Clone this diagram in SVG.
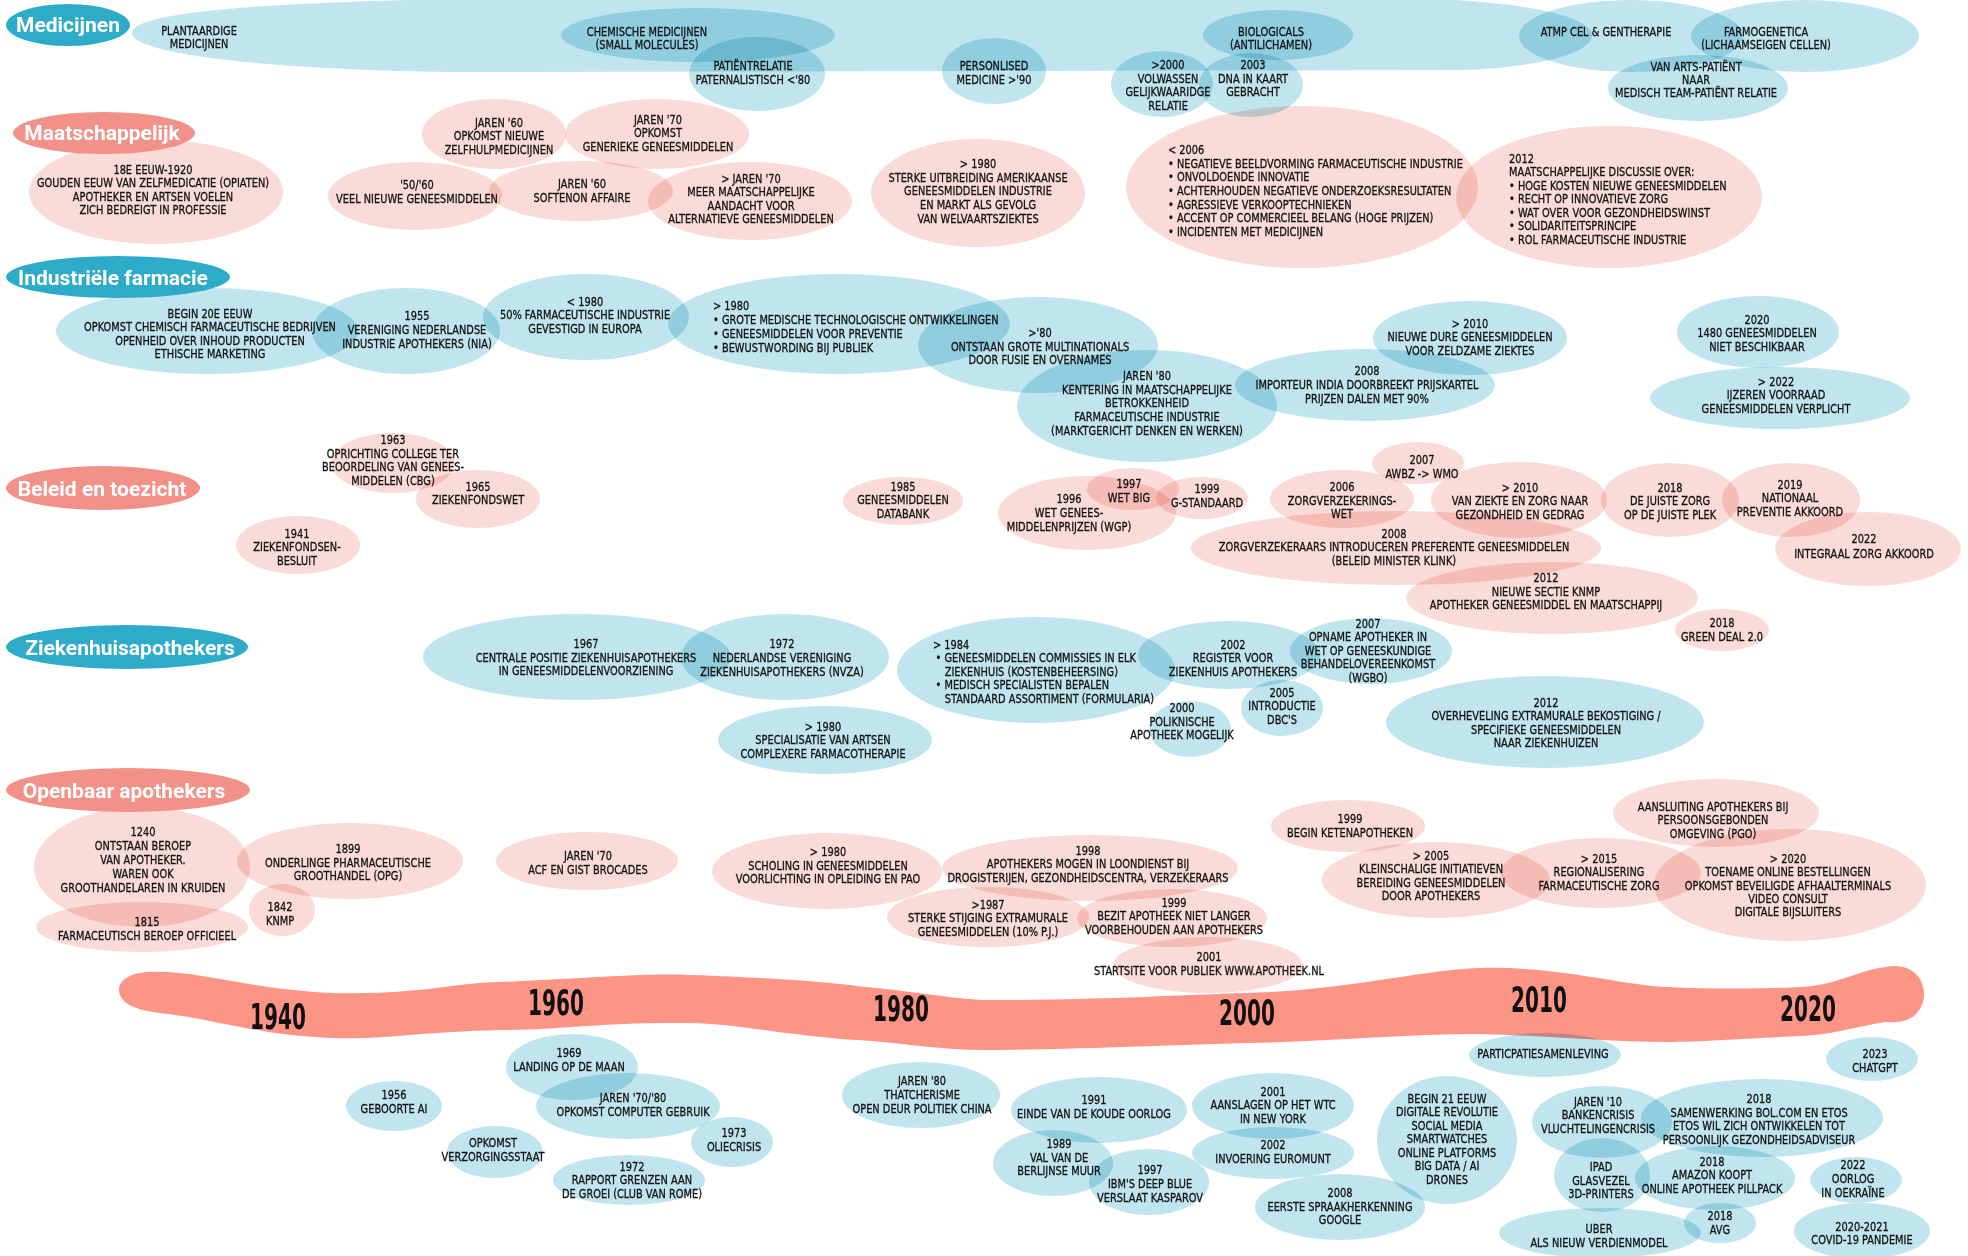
<svg xmlns="http://www.w3.org/2000/svg" width="1968" height="1256" viewBox="0 0 1968 1256">
<style>
.b{fill:#c0e5ee;mix-blend-mode:multiply}
.p{fill:#fadbd7;mix-blend-mode:multiply}
.cb{fill:#2eabc9}
.cp{fill:#f29188}
.cat{font-family:Roboto,'Liberation Sans',sans-serif;font-weight:700;font-size:21px;fill:#fff;text-anchor:middle}
.t{font-family:'DejaVu Sans Condensed','DejaVu Sans',sans-serif;font-stretch:condensed;font-size:13px;fill:#111;stroke:#111;stroke-width:0.3px;text-anchor:middle;transform-box:fill-box;transform-origin:center;transform:scaleX(0.84)}
.l{text-anchor:start;transform-origin:left center}
.yr{font-family:'DejaVu Sans Condensed','DejaVu Sans',sans-serif;font-stretch:condensed;font-weight:700;font-size:36px;fill:#111;text-anchor:middle;transform-box:fill-box;transform-origin:center;transform:scaleX(0.62)}
.band{fill:#fd9587}
</style>
<rect width="1968" height="1256" fill="#fff"/>

<g id="timeline">
<path class="band" d="M150,972 C200,970 250,990 333,993 C420,995 460,982 500,982 C600,978 640,973 690,975 C780,978 820,982 857,986 C920,992 960,1000 990,1000 C1100,1000 1180,995 1247,993 C1350,990 1420,970 1480,968 C1560,966 1620,985 1668,987 C1720,990 1780,988 1801,987 C1840,985 1860,968 1895,966 C1925,966 1932,1000 1915,1015 C1905,1024 1890,1022 1885,1022 C1850,1028 1830,1035 1801,1036 C1760,1038 1700,1042 1668,1042 C1600,1042 1540,1035 1480,1034 C1400,1034 1320,1042 1247,1043 C1150,1046 1050,1050 990,1050 C930,1050 900,1042 857,1040 C790,1036 740,1024 690,1023 C600,1022 560,1030 500,1030 C420,1032 380,1040 333,1038 C260,1036 210,1018 160,1013 C130,1010 119,1000 119,990 C119,978 135,972 150,972 Z"/>
<text class="yr" x="278" y="1029">1940</text>
<text class="yr" x="556" y="1015">1960</text>
<text class="yr" x="901" y="1021">1980</text>
<text class="yr" x="1247" y="1025">2000</text>
<text class="yr" x="1539" y="1012">2010</text>
<text class="yr" x="1808" y="1021">2020</text>
</g>

<g id="connectors"></g>

<!-- Medicijnen -->
<g id="med-plantaardig"><path class="b" d="M132,33 C132,12 260,2 500,-2 L1400,-2 C1530,0 1592,18 1592,35 C1592,55 1530,68 1460,70 L450,72 C280,70 132,55 132,33 Z"/><text class="t" x="199" y="35"><tspan x="199">PLANTAARDIGE</tspan><tspan x="199" dy="13.4">MEDICIJNEN</tspan></text></g>
<g id="med-chemisch"><ellipse class="b" cx="698" cy="35" rx="137" ry="27"/><text class="t" x="647" y="36"><tspan x="647">CHEMISCHE MEDICIJNEN</tspan><tspan x="647" dy="12.8">(SMALL MOLECULES)</tspan></text></g>
<g id="med-patientrelatie"><ellipse class="b" cx="757" cy="74" rx="68" ry="37"/><text class="t" x="753" y="70"><tspan x="753">PATIËNTRELATIE</tspan><tspan x="753" dy="14">PATERNALISTISCH &lt;'80</tspan></text></g>
<g id="med-personalised"><ellipse class="b" cx="994" cy="71" rx="52" ry="33"/><text class="t" x="994" y="70"><tspan x="994">PERSONLISED</tspan><tspan x="994" dy="14">MEDICINE &gt;'90</tspan></text></g>
<g id="med-volwassen"><ellipse class="b" cx="1162" cy="84" rx="51" ry="33"/><text class="t" x="1168" y="69"><tspan x="1168">&gt;2000</tspan><tspan x="1168" dy="13.7">VOLWASSEN</tspan><tspan x="1168" dy="13.7">GELIJKWAARIDGE</tspan><tspan x="1168" dy="13.7">RELATIE</tspan></text></g>
<g id="med-dna"><ellipse class="b" cx="1251" cy="85" rx="52" ry="32"/><text class="t" x="1253" y="69"><tspan x="1253">2003</tspan><tspan x="1253" dy="13.7">DNA IN KAART</tspan><tspan x="1253" dy="13.7">GEBRACHT</tspan></text></g>
<g id="med-biologicals"><ellipse class="b" cx="1278" cy="35" rx="75" ry="25"/><text class="t" x="1271" y="36"><tspan x="1271">BIOLOGICALS</tspan><tspan x="1271" dy="12.8">(ANTILICHAMEN)</tspan></text></g>
<g id="med-atmp"><ellipse class="b" cx="1631" cy="36" rx="112" ry="36"/><text class="t" x="1606" y="36">ATMP CEL &amp; GENTHERAPIE</text></g>
<g id="med-farmogenetica"><ellipse class="b" cx="1805" cy="36" rx="114" ry="36"/><text class="t" x="1766" y="36"><tspan x="1766">FARMOGENETICA</tspan><tspan x="1766" dy="12.8">(LICHAAMSEIGEN CELLEN)</tspan></text></g>
<g id="med-teampatient"><ellipse class="b" cx="1698" cy="88" rx="90" ry="33"/><text class="t" x="1696" y="71"><tspan x="1696">VAN ARTS-PATIËNT</tspan><tspan x="1696" dy="13">NAAR</tspan><tspan x="1696" dy="13">MEDISCH TEAM-PATIËNT RELATIE</tspan></text></g>

<!-- Maatschappelijk -->
<g id="m-18e"><ellipse class="p" cx="156" cy="192" rx="127" ry="52"/><text class="t" x="153" y="174"><tspan x="153">18E EEUW-1920</tspan><tspan x="153" dy="13.4">GOUDEN EEUW VAN ZELFMEDICATIE (OPIATEN)</tspan><tspan x="153" dy="13.4">APOTHEKER EN ARTSEN VOELEN</tspan><tspan x="153" dy="13.4">ZICH BEDREIGT IN PROFESSIE</tspan></text></g>
<g id="m-jaren60-zelfhulp"><ellipse class="p" cx="494" cy="134" rx="72" ry="35"/><text class="t" x="499" y="127"><tspan x="499">JAREN '60</tspan><tspan x="499" dy="13.4">OPKOMST NIEUWE</tspan><tspan x="499" dy="13.4">ZELFHULPMEDICIJNEN</tspan></text></g>
<g id="m-jaren70-generiek"><ellipse class="p" cx="657" cy="134" rx="92" ry="35"/><text class="t" x="658" y="124"><tspan x="658">JAREN '70</tspan><tspan x="658" dy="13.4">OPKOMST</tspan><tspan x="658" dy="13.4">GENERIEKE GENEESMIDDELEN</tspan></text></g>
<g id="m-5060"><ellipse class="p" cx="415" cy="196" rx="87" ry="34"/><text class="t" x="417" y="189"><tspan x="417">'50/'60</tspan><tspan x="417" dy="14.5">VEEL NIEUWE GENEESMIDDELEN</tspan></text></g>
<g id="m-softenon"><ellipse class="p" cx="581" cy="191" rx="92" ry="30"/><text class="t" x="582" y="188"><tspan x="582">JAREN '60</tspan><tspan x="582" dy="14">SOFTENON AFFAIRE</tspan></text></g>
<g id="m-jaren70-alternatief"><ellipse class="p" cx="750" cy="201" rx="102" ry="39"/><text class="t" x="751" y="183"><tspan x="751">&gt; JAREN '70</tspan><tspan x="751" dy="13.4">MEER MAATSCHAPPELIJKE</tspan><tspan x="751" dy="13.4">AANDACHT VOOR</tspan><tspan x="751" dy="13.4">ALTERNATIEVE GENEESMIDDELEN</tspan></text></g>
<g id="m-1980"><ellipse class="p" cx="978" cy="193" rx="107" ry="54"/><text class="t" x="978" y="168"><tspan x="978">&gt; 1980</tspan><tspan x="978" dy="13.7">STERKE UITBREIDING AMERIKAANSE</tspan><tspan x="978" dy="13.7">GENEESMIDDELEN INDUSTRIE</tspan><tspan x="978" dy="13.7">EN MARKT ALS GEVOLG</tspan><tspan x="978" dy="13.7">VAN WELVAARTSZIEKTES</tspan></text></g>
<g id="m-2006"><ellipse class="p" cx="1302" cy="187" rx="176" ry="81"/><text class="t l" x="1168" y="154"><tspan x="1168">&lt; 2006</tspan><tspan x="1168" dy="13.7">• NEGATIEVE BEELDVORMING FARMACEUTISCHE INDUSTRIE</tspan><tspan x="1168" dy="13.7">• ONVOLDOENDE INNOVATIE</tspan><tspan x="1168" dy="13.7">• ACHTERHOUDEN NEGATIEVE ONDERZOEKSRESULTATEN</tspan><tspan x="1168" dy="13.7">• AGRESSIEVE VERKOOPTECHNIEKEN</tspan><tspan x="1168" dy="13.7">• ACCENT OP COMMERCIEEL BELANG (HOGE PRIJZEN)</tspan><tspan x="1168" dy="13.7">• INCIDENTEN MET MEDICIJNEN</tspan></text></g>
<g id="m-2012"><ellipse class="p" cx="1609" cy="197" rx="153" ry="71"/><text class="t l" x="1509" y="163"><tspan x="1509">2012</tspan><tspan x="1509" dy="13.5">MAATSCHAPPELIJKE DISCUSSIE OVER:</tspan><tspan x="1509" dy="13.5">• HOGE KOSTEN NIEUWE GENEESMIDDELEN</tspan><tspan x="1509" dy="13.5">• RECHT OP INNOVATIEVE ZORG</tspan><tspan x="1509" dy="13.5">• WAT OVER VOOR GEZONDHEIDSWINST</tspan><tspan x="1509" dy="13.5">• SOLIDARITEITSPRINCIPE</tspan><tspan x="1509" dy="13.5">• ROL FARMACEUTISCHE INDUSTRIE</tspan></text></g>

<!-- Industriele farmacie -->
<g id="i-begin20"><ellipse class="b" cx="207" cy="331" rx="151" ry="43"/><text class="t" x="210" y="318"><tspan x="210">BEGIN 20E EEUW</tspan><tspan x="210" dy="13.4">OPKOMST CHEMISCH FARMACEUTISCHE BEDRIJVEN</tspan><tspan x="210" dy="13.4">OPENHEID OVER INHOUD PRODUCTEN</tspan><tspan x="210" dy="13.4">ETHISCHE MARKETING</tspan></text></g>
<g id="i-1955"><ellipse class="b" cx="406" cy="331" rx="94" ry="43"/><text class="t" x="417" y="320"><tspan x="417">1955</tspan><tspan x="417" dy="14">VERENIGING NEDERLANDSE</tspan><tspan x="417" dy="14">INDUSTRIE APOTHEKERS (NIA)</tspan></text></g>
<g id="i-1980-europa"><ellipse class="b" cx="586" cy="317" rx="103" ry="43"/><text class="t" x="585" y="306"><tspan x="585">&lt; 1980</tspan><tspan x="585" dy="13.5">50% FARMACEUTISCHE INDUSTRIE</tspan><tspan x="585" dy="13.5">GEVESTIGD IN EUROPA</tspan></text></g>
<g id="i-1980-technologie"><ellipse class="b" cx="839" cy="324" rx="171" ry="50"/><text class="t l" x="713" y="310"><tspan x="713">&gt; 1980</tspan><tspan x="713" dy="14">• GROTE MEDISCHE TECHNOLOGISCHE ONTWIKKELINGEN</tspan><tspan x="713" dy="14">• GENEESMIDDELEN VOOR PREVENTIE</tspan><tspan x="713" dy="14">• BEWUSTWORDING BIJ PUBLIEK</tspan></text></g>
<g id="i-80-multinationals"><ellipse class="b" cx="1038" cy="345" rx="120" ry="48"/><text class="t" x="1040" y="337"><tspan x="1040">&gt;'80</tspan><tspan x="1040" dy="13.7">ONTSTAAN GROTE MULTINATIONALS</tspan><tspan x="1040" dy="13.7">DOOR FUSIE EN OVERNAMES</tspan></text></g>
<g id="i-jaren80"><ellipse class="b" cx="1147" cy="406" rx="130" ry="56"/><text class="t" x="1147" y="380"><tspan x="1147">JAREN '80</tspan><tspan x="1147" dy="13.7">KENTERING IN MAATSCHAPPELIJKE</tspan><tspan x="1147" dy="13.7">BETROKKENHEID</tspan><tspan x="1147" dy="13.7">FARMACEUTISCHE INDUSTRIE</tspan><tspan x="1147" dy="13.7">(MARKTGERICHT DENKEN EN WERKEN)</tspan></text></g>
<g id="i-2008"><ellipse class="b" cx="1365" cy="385" rx="130" ry="36"/><text class="t" x="1367" y="375"><tspan x="1367">2008</tspan><tspan x="1367" dy="14">IMPORTEUR INDIA DOORBREEKT PRIJSKARTEL</tspan><tspan x="1367" dy="14">PRIJZEN DALEN MET 90%</tspan></text></g>
<g id="i-2010"><ellipse class="b" cx="1470" cy="338" rx="97" ry="37"/><text class="t" x="1470" y="328"><tspan x="1470">&gt; 2010</tspan><tspan x="1470" dy="13.5">NIEUWE DURE GENEESMIDDELEN</tspan><tspan x="1470" dy="13.5">VOOR ZELDZAME ZIEKTES</tspan></text></g>
<g id="i-2020"><ellipse class="b" cx="1758" cy="332" rx="81" ry="36"/><text class="t" x="1757" y="324"><tspan x="1757">2020</tspan><tspan x="1757" dy="13.5">1480 GENEESMIDDELEN</tspan><tspan x="1757" dy="13.5">NIET BESCHIKBAAR</tspan></text></g>
<g id="i-2022"><ellipse class="b" cx="1780" cy="398" rx="130" ry="31"/><text class="t" x="1776" y="386"><tspan x="1776">&gt; 2022</tspan><tspan x="1776" dy="13.5">IJZEREN VOORRAAD</tspan><tspan x="1776" dy="13.5">GENEESMIDDELEN VERPLICHT</tspan></text></g>

<!-- Beleid en toezicht -->
<g id="b-1963"><ellipse class="p" cx="393" cy="463" rx="62" ry="30"/><text class="t" x="393" y="444"><tspan x="393">1963</tspan><tspan x="393" dy="13.7">OPRICHTING COLLEGE TER</tspan><tspan x="393" dy="13.7">BEOORDELING VAN GENEES-</tspan><tspan x="393" dy="13.7">MIDDELEN (CBG)</tspan></text></g>
<g id="b-1965"><ellipse class="p" cx="478" cy="499" rx="62" ry="29"/><text class="t" x="478" y="491"><tspan x="478">1965</tspan><tspan x="478" dy="13.4">ZIEKENFONDSWET</tspan></text></g>
<g id="b-1941"><ellipse class="p" cx="298" cy="545" rx="62" ry="29"/><text class="t" x="297" y="538"><tspan x="297">1941</tspan><tspan x="297" dy="13.5">ZIEKENFONDSEN-</tspan><tspan x="297" dy="13.5">BESLUIT</tspan></text></g>
<g id="b-1985"><ellipse class="p" cx="903" cy="501" rx="60" ry="24"/><text class="t" x="903" y="491"><tspan x="903">1985</tspan><tspan x="903" dy="13.5">GENEESMIDDELEN</tspan><tspan x="903" dy="13.5">DATABANK</tspan></text></g>
<g id="b-1996"><ellipse class="p" cx="1087" cy="513" rx="89" ry="37"/><text class="t" x="1069" y="503"><tspan x="1069">1996</tspan><tspan x="1069" dy="14">WET GENEES-</tspan><tspan x="1069" dy="14">MIDDELENPRIJZEN (WGP)</tspan></text></g>
<g id="b-1997"><ellipse class="p" cx="1133" cy="489" rx="46" ry="21"/><text class="t" x="1129" y="488"><tspan x="1129">1997</tspan><tspan x="1129" dy="14">WET BIG</tspan></text></g>
<g id="b-1999"><ellipse class="p" cx="1202" cy="498" rx="46" ry="21"/><text class="t" x="1207" y="493"><tspan x="1207">1999</tspan><tspan x="1207" dy="14">G-STANDAARD</tspan></text></g>
<g id="b-2006"><ellipse class="p" cx="1342" cy="499" rx="72" ry="29"/><text class="t" x="1342" y="491"><tspan x="1342">2006</tspan><tspan x="1342" dy="13.7">ZORGVERZEKERINGS-</tspan><tspan x="1342" dy="13.7">WET</tspan></text></g>
<g id="b-2007"><ellipse class="p" cx="1418" cy="463" rx="46" ry="21"/><text class="t" x="1422" y="464"><tspan x="1422">2007</tspan><tspan x="1422" dy="14">AWBZ -&gt; WMO</tspan></text></g>
<g id="b-2008"><ellipse class="p" cx="1396" cy="548" rx="205" ry="37"/><text class="t" x="1394" y="538"><tspan x="1394">2008</tspan><tspan x="1394" dy="13.5">ZORGVERZEKERAARS INTRODUCEREN PREFERENTE GENEESMIDDELEN</tspan><tspan x="1394" dy="13.5">(BELEID MINISTER KLINK)</tspan></text></g>
<g id="b-2010"><ellipse class="p" cx="1519" cy="500" rx="88" ry="38"/><text class="t" x="1520" y="492"><tspan x="1520">&gt; 2010</tspan><tspan x="1520" dy="13.4">VAN ZIEKTE EN ZORG NAAR</tspan><tspan x="1520" dy="13.4">GEZONDHEID EN GEDRAG</tspan></text></g>
<g id="b-2018-zorg"><ellipse class="p" cx="1670" cy="500" rx="69" ry="37"/><text class="t" x="1670" y="492"><tspan x="1670">2018</tspan><tspan x="1670" dy="13.4">DE JUISTE ZORG</tspan><tspan x="1670" dy="13.4">OP DE JUISTE PLEK</tspan></text></g>
<g id="b-2019"><ellipse class="p" cx="1791" cy="500" rx="69" ry="37"/><text class="t" x="1790" y="489"><tspan x="1790">2019</tspan><tspan x="1790" dy="13.5">NATIONAAL</tspan><tspan x="1790" dy="13.5">PREVENTIE AKKOORD</tspan></text></g>
<g id="b-2022"><ellipse class="p" cx="1868" cy="549" rx="93" ry="37"/><text class="t" x="1864" y="543"><tspan x="1864">2022</tspan><tspan x="1864" dy="15">INTEGRAAL ZORG AKKOORD</tspan></text></g>
<g id="b-2012"><ellipse class="p" cx="1552" cy="598" rx="146" ry="36"/><text class="t" x="1546" y="582"><tspan x="1546">2012</tspan><tspan x="1546" dy="13.7">NIEUWE SECTIE KNMP</tspan><tspan x="1546" dy="13.7">APOTHEKER GENEESMIDDEL EN MAATSCHAPPIJ</tspan></text></g>
<g id="b-2018-greendeal"><ellipse class="p" cx="1722" cy="630" rx="47" ry="21"/><text class="t" x="1722" y="627"><tspan x="1722">2018</tspan><tspan x="1722" dy="14.5">GREEN DEAL 2.0</tspan></text></g>

<!-- Ziekenhuisapothekers -->
<g id="z-1967"><ellipse class="b" cx="577" cy="657" rx="154" ry="43"/><text class="t" x="586" y="648"><tspan x="586">1967</tspan><tspan x="586" dy="14">CENTRALE POSITIE ZIEKENHUISAPOTHEKERS</tspan><tspan x="586" dy="13.5">IN GENEESMIDDELENVOORZIENING</tspan></text></g>
<g id="z-1972"><ellipse class="b" cx="785" cy="657" rx="104" ry="43"/><text class="t" x="782" y="648"><tspan x="782">1972</tspan><tspan x="782" dy="14">NEDERLANDSE VERENIGING</tspan><tspan x="782" dy="14">ZIEKENHUISAPOTHEKERS (NVZA)</tspan></text></g>
<g id="z-1980"><ellipse class="b" cx="825" cy="740" rx="107" ry="34"/><text class="t" x="823" y="731"><tspan x="823">&gt; 1980</tspan><tspan x="823" dy="13.5">SPECIALISATIE VAN ARTSEN</tspan><tspan x="823" dy="13.5">COMPLEXERE FARMACOTHERAPIE</tspan></text></g>
<g id="z-1984"><ellipse class="b" cx="1036" cy="670" rx="139" ry="53"/><text class="t l" x="933" y="649"><tspan x="933">&gt; 1984</tspan><tspan x="936" dy="13.5">• GENEESMIDDELEN COMMISSIES IN ELK</tspan><tspan x="947" dy="13.5">ZIEKENHUIS (KOSTENBEHEERSING)</tspan><tspan x="936" dy="13.5">• MEDISCH SPECIALISTEN BEPALEN</tspan><tspan x="947" dy="13.5">STANDAARD ASSORTIMENT (FORMULARIA)</tspan></text></g>
<g id="z-2002"><ellipse class="b" cx="1229" cy="655" rx="91" ry="34"/><text class="t" x="1233" y="649"><tspan x="1233">2002</tspan><tspan x="1233" dy="13.5">REGISTER VOOR</tspan><tspan x="1233" dy="13.5">ZIEKENHUIS APOTHEKERS</tspan></text></g>
<g id="z-2007"><ellipse class="b" cx="1371" cy="651" rx="81" ry="33"/><text class="t" x="1368" y="628"><tspan x="1368">2007</tspan><tspan x="1368" dy="13.5">OPNAME APOTHEKER IN</tspan><tspan x="1368" dy="13.5">WET OP GENEESKUNDIGE</tspan><tspan x="1368" dy="13.5">BEHANDELOVEREENKOMST</tspan><tspan x="1368" dy="13.5">(WGBO)</tspan></text></g>
<g id="z-2005"><ellipse class="b" cx="1282" cy="708" rx="41" ry="28"/><text class="t" x="1282" y="697"><tspan x="1282">2005</tspan><tspan x="1282" dy="13.5">INTRODUCTIE</tspan><tspan x="1282" dy="13.5">DBC'S</tspan></text></g>
<g id="z-2000"><ellipse class="b" cx="1190" cy="729" rx="41" ry="28"/><text class="t" x="1182" y="712"><tspan x="1182">2000</tspan><tspan x="1182" dy="14">POLIKNISCHE</tspan><tspan x="1182" dy="13.5">APOTHEEK MOGELIJK</tspan></text></g>
<g id="z-2012"><ellipse class="b" cx="1545" cy="722" rx="159" ry="46"/><text class="t" x="1546" y="707"><tspan x="1546">2012</tspan><tspan x="1546" dy="13.5">OVERHEVELING EXTRAMURALE BEKOSTIGING /</tspan><tspan x="1546" dy="13.5">SPECIFIEKE GENEESMIDDELEN</tspan><tspan x="1546" dy="13">NAAR ZIEKENHUIZEN</tspan></text></g>

<!-- Openbaar apothekers -->
<g id="o-1240"><ellipse class="p" cx="142" cy="867" rx="108" ry="60"/><text class="t" x="143" y="836"><tspan x="143">1240</tspan><tspan x="143" dy="14">ONTSTAAN BEROEP</tspan><tspan x="143" dy="14">VAN APOTHEKER.</tspan><tspan x="143" dy="14">WAREN OOK</tspan><tspan x="143" dy="14">GROOTHANDELAREN IN KRUIDEN</tspan></text></g>
<g id="o-1815"><ellipse class="p" cx="142" cy="927" rx="106" ry="25"/><text class="t" x="147" y="926"><tspan x="147">1815</tspan><tspan x="147" dy="14">FARMACEUTISCH BEROEP OFFICIEEL</tspan></text></g>
<g id="o-1899"><ellipse class="p" cx="350" cy="861" rx="113" ry="38"/><text class="t" x="348" y="853"><tspan x="348">1899</tspan><tspan x="348" dy="13.7">ONDERLINGE PHARMACEUTISCHE</tspan><tspan x="348" dy="13.7">GROOTHANDEL (OPG)</tspan></text></g>
<g id="o-1842"><ellipse class="p" cx="282" cy="910" rx="33" ry="26"/><text class="t" x="280" y="911"><tspan x="280">1842</tspan><tspan x="280" dy="14">KNMP</tspan></text></g>
<g id="o-jaren70"><ellipse class="p" cx="587" cy="861" rx="91" ry="29"/><text class="t" x="588" y="860"><tspan x="588">JAREN '70</tspan><tspan x="588" dy="14">ACF EN GIST BROCADES</tspan></text></g>
<g id="o-1980"><ellipse class="p" cx="827" cy="871" rx="115" ry="38"/><text class="t" x="828" y="856"><tspan x="828">&gt; 1980</tspan><tspan x="828" dy="13.7">SCHOLING IN GENEESMIDDELEN</tspan><tspan x="828" dy="13.7">VOORLICHTING IN OPLEIDING EN PAO</tspan></text></g>
<g id="o-1998"><ellipse class="p" cx="1090" cy="868" rx="148" ry="33"/><text class="t" x="1088" y="855"><tspan x="1088">1998</tspan><tspan x="1088" dy="13.5">APOTHEKERS MOGEN IN LOONDIENST BIJ</tspan><tspan x="1088" dy="13.5">DROGISTERIJEN, GEZONDHEIDSCENTRA, VERZEKERAARS</tspan></text></g>
<g id="o-1987"><ellipse class="p" cx="988" cy="917" rx="101" ry="30"/><text class="t" x="988" y="909"><tspan x="988">&gt;1987</tspan><tspan x="988" dy="13.5">STERKE STIJGING EXTRAMURALE</tspan><tspan x="988" dy="13.5">GENEESMIDDELEN (10% P.J.)</tspan></text></g>
<g id="o-1999-bezit"><ellipse class="p" cx="1172" cy="918" rx="95" ry="29"/><text class="t" x="1174" y="907"><tspan x="1174">1999</tspan><tspan x="1174" dy="13.5">BEZIT APOTHEEK NIET LANGER</tspan><tspan x="1174" dy="13.5">VOORBEHOUDEN AAN APOTHEKERS</tspan></text></g>
<g id="o-2001"><ellipse class="p" cx="1208" cy="965" rx="95" ry="28"/><text class="t" x="1209" y="961"><tspan x="1209">2001</tspan><tspan x="1209" dy="14">STARTSITE VOOR PUBLIEK WWW.APOTHEEK.NL</tspan></text></g>
<g id="o-1999-keten"><ellipse class="p" cx="1348" cy="826" rx="77" ry="26"/><text class="t" x="1350" y="823"><tspan x="1350">1999</tspan><tspan x="1350" dy="14.5">BEGIN KETENAPOTHEKEN</tspan></text></g>
<g id="o-2005"><ellipse class="p" cx="1436" cy="880" rx="114" ry="38"/><text class="t" x="1431" y="860"><tspan x="1431">&gt; 2005</tspan><tspan x="1431" dy="13.5">KLEINSCHALIGE INITIATIEVEN</tspan><tspan x="1431" dy="13.5">BEREIDING GENEESMIDDELEN</tspan><tspan x="1431" dy="13.5">DOOR APOTHEKERS</tspan></text></g>
<g id="o-2015"><ellipse class="p" cx="1601" cy="873" rx="100" ry="35"/><text class="t" x="1599" y="863"><tspan x="1599">&gt; 2015</tspan><tspan x="1599" dy="13.3">REGIONALISERING</tspan><tspan x="1599" dy="13.3">FARMACEUTISCHE ZORG</tspan></text></g>
<g id="o-2020"><ellipse class="p" cx="1790" cy="885" rx="136" ry="56"/><text class="t" x="1788" y="863"><tspan x="1788">&gt; 2020</tspan><tspan x="1788" dy="13.3">TOENAME ONLINE BESTELLINGEN</tspan><tspan x="1788" dy="13.3">OPKOMST BEVEILIGDE AFHAALTERMINALS</tspan><tspan x="1788" dy="13.3">VIDEO CONSULT</tspan><tspan x="1788" dy="13.3">DIGITALE BIJSLUITERS</tspan></text></g>
<g id="o-pgo"><ellipse class="p" cx="1716" cy="813" rx="103" ry="34"/><text class="t" x="1713" y="811"><tspan x="1713">AANSLUITING APOTHEKERS BIJ</tspan><tspan x="1713" dy="13.4">PERSOONSGEBONDEN</tspan><tspan x="1713" dy="13.4">OMGEVING (PGO)</tspan></text></g>

<!-- World events -->
<g id="w-1956"><ellipse class="b" cx="394" cy="1106" rx="48" ry="25"/><text class="t" x="394" y="1099"><tspan x="394">1956</tspan><tspan x="394" dy="14">GEBOORTE AI</tspan></text></g>
<g id="w-verzorgingsstaat"><ellipse class="b" cx="495" cy="1152" rx="48" ry="26"/><text class="t" x="493" y="1147"><tspan x="493">OPKOMST</tspan><tspan x="493" dy="14">VERZORGINGSSTAAT</tspan></text></g>
<g id="w-1969"><ellipse class="b" cx="572" cy="1067" rx="66" ry="33"/><text class="t" x="569" y="1057"><tspan x="569">1969</tspan><tspan x="569" dy="14">LANDING OP DE MAAN</tspan></text></g>
<g id="w-computer"><ellipse class="b" cx="628" cy="1106" rx="92" ry="33"/><text class="t" x="633" y="1102"><tspan x="633">JAREN '70/'80</tspan><tspan x="633" dy="14.5">OPKOMST COMPUTER GEBRUIK</tspan></text></g>
<g id="w-1973"><ellipse class="b" cx="732" cy="1142" rx="41" ry="25"/><text class="t" x="734" y="1137"><tspan x="734">1973</tspan><tspan x="734" dy="14">OLIECRISIS</tspan></text></g>
<g id="w-1972"><ellipse class="b" cx="629" cy="1180" rx="76" ry="25"/><text class="t" x="632" y="1171"><tspan x="632">1972</tspan><tspan x="632" dy="13.4">RAPPORT GRENZEN AAN</tspan><tspan x="632" dy="13.4">DE GROEI (CLUB VAN ROME)</tspan></text></g>
<g id="w-thatcher"><ellipse class="b" cx="921" cy="1095" rx="79" ry="33"/><text class="t" x="922" y="1085"><tspan x="922">JAREN '80</tspan><tspan x="922" dy="14">THATCHERISME</tspan><tspan x="922" dy="14">OPEN DEUR POLITIEK CHINA</tspan></text></g>
<g id="w-1991"><ellipse class="b" cx="1099" cy="1110" rx="88" ry="33"/><text class="t" x="1094" y="1104"><tspan x="1094">1991</tspan><tspan x="1094" dy="14">EINDE VAN DE KOUDE OORLOG</tspan></text></g>
<g id="w-1989"><ellipse class="b" cx="1053" cy="1163" rx="60" ry="33"/><text class="t" x="1059" y="1148"><tspan x="1059">1989</tspan><tspan x="1059" dy="13.7">VAL VAN DE</tspan><tspan x="1059" dy="13.7">BERLIJNSE MUUR</tspan></text></g>
<g id="w-1997"><ellipse class="b" cx="1149" cy="1182" rx="60" ry="33"/><text class="t" x="1150" y="1174"><tspan x="1150">1997</tspan><tspan x="1150" dy="14">IBM'S DEEP BLUE</tspan><tspan x="1150" dy="14">VERSLAAT KASPAROV</tspan></text></g>
<g id="w-2001"><ellipse class="b" cx="1273" cy="1106" rx="81" ry="33"/><text class="t" x="1273" y="1096"><tspan x="1273">2001</tspan><tspan x="1273" dy="13.5">AANSLAGEN OP HET WTC</tspan><tspan x="1273" dy="13.5">IN NEW YORK</tspan></text></g>
<g id="w-2002"><ellipse class="b" cx="1273" cy="1153" rx="81" ry="26"/><text class="t" x="1273" y="1149"><tspan x="1273">2002</tspan><tspan x="1273" dy="14">INVOERING EUROMUNT</tspan></text></g>
<g id="w-2008"><ellipse class="b" cx="1340" cy="1207" rx="85" ry="33"/><text class="t" x="1340" y="1197"><tspan x="1340">2008</tspan><tspan x="1340" dy="13.7">EERSTE SPRAAKHERKENNING</tspan><tspan x="1340" dy="13.7">GOOGLE</tspan></text></g>
<g id="w-21eeuw"><ellipse class="b" cx="1447" cy="1140" rx="70" ry="64"/><text class="t" x="1447" y="1103"><tspan x="1447">BEGIN 21 EEUW</tspan><tspan x="1447" dy="13.5">DIGITALE REVOLUTIE</tspan><tspan x="1447" dy="13.5">SOCIAL MEDIA</tspan><tspan x="1447" dy="13.5">SMARTWATCHES</tspan><tspan x="1447" dy="13.5">ONLINE PLATFORMS</tspan><tspan x="1447" dy="13.5">BIG DATA / AI</tspan><tspan x="1447" dy="13.5">DRONES</tspan></text></g>
<g id="w-participatie"><ellipse class="b" cx="1545" cy="1055" rx="76" ry="22"/><text class="t" x="1543" y="1058">PARTICPATIESAMENLEVING</text></g>
<g id="w-jaren10"><ellipse class="b" cx="1602" cy="1122" rx="70" ry="36"/><text class="t" x="1598" y="1106"><tspan x="1598">JAREN '10</tspan><tspan x="1598" dy="13.5">BANKENCRISIS</tspan><tspan x="1598" dy="13.5">VLUCHTELINGENCRISIS</tspan></text></g>
<g id="w-bolcom"><ellipse class="b" cx="1762" cy="1118" rx="121" ry="39"/><text class="t" x="1759" y="1103"><tspan x="1759">2018</tspan><tspan x="1759" dy="13.7">SAMENWERKING BOL.COM EN ETOS</tspan><tspan x="1759" dy="13.7">ETOS WIL ZICH ONTWIKKELEN TOT</tspan><tspan x="1759" dy="13.7">PERSOONLIJK GEZONDHEIDSADVISEUR</tspan></text></g>
<g id="w-ipad"><ellipse class="b" cx="1602" cy="1175" rx="48" ry="37"/><text class="t" x="1601" y="1171"><tspan x="1601">IPAD</tspan><tspan x="1601" dy="13.7">GLASVEZEL</tspan><tspan x="1601" dy="13.7">3D-PRINTERS</tspan></text></g>
<g id="w-amazon"><ellipse class="b" cx="1715" cy="1178" rx="80" ry="32"/><text class="t" x="1712" y="1166"><tspan x="1712">2018</tspan><tspan x="1712" dy="13.5">AMAZON KOOPT</tspan><tspan x="1712" dy="13.5">ONLINE APOTHEEK PILLPACK</tspan></text></g>
<g id="w-avg"><ellipse class="b" cx="1720" cy="1223" rx="36" ry="20"/><text class="t" x="1720" y="1220"><tspan x="1720">2018</tspan><tspan x="1720" dy="14">AVG</tspan></text></g>
<g id="w-uber"><ellipse class="b" cx="1600" cy="1233" rx="101" ry="25"/><text class="t" x="1599" y="1233"><tspan x="1599">UBER</tspan><tspan x="1599" dy="14">ALS NIEUW VERDIENMODEL</tspan></text></g>
<g id="w-chatgpt"><ellipse class="b" cx="1872" cy="1059" rx="46" ry="22"/><text class="t" x="1875" y="1058"><tspan x="1875">2023</tspan><tspan x="1875" dy="14">CHATGPT</tspan></text></g>
<g id="w-oekraine"><ellipse class="b" cx="1856" cy="1180" rx="46" ry="23"/><text class="t" x="1853" y="1169"><tspan x="1853">2022</tspan><tspan x="1853" dy="14">OORLOG</tspan><tspan x="1853" dy="14">IN OEKRAÏNE</tspan></text></g>
<g id="w-covid"><ellipse class="b" cx="1862" cy="1231" rx="68" ry="28"/><text class="t" x="1862" y="1231"><tspan x="1862">2020-2021</tspan><tspan x="1862" dy="13.5">COVID-19 PANDEMIE</tspan></text></g>

<!-- Category labels -->
<g id="cat-medicijnen"><ellipse class="cb" cx="68" cy="25" rx="62" ry="21"/><text class="cat" x="68" y="32">Medicijnen</text></g>
<g id="cat-maatschappelijk"><ellipse class="cp" cx="104" cy="133" rx="91" ry="21"/><text class="cat" x="102" y="140">Maatschappelijk</text></g>
<g id="cat-industrie"><ellipse class="cb" cx="118" cy="277" rx="112" ry="21"/><text class="cat" x="113" y="285">Industriële farmacie</text></g>
<g id="cat-beleid"><ellipse class="cp" cx="103" cy="488" rx="97" ry="22"/><text class="cat" x="102" y="496">Beleid en toezicht</text></g>
<g id="cat-ziekenhuis"><ellipse class="cb" cx="127" cy="647" rx="121" ry="22"/><text class="cat" x="130" y="655">Ziekenhuisapothekers</text></g>
<g id="cat-openbaar"><ellipse class="cp" cx="128" cy="790" rx="122" ry="22"/><text class="cat" x="124" y="798">Openbaar apothekers</text></g>
</svg>
